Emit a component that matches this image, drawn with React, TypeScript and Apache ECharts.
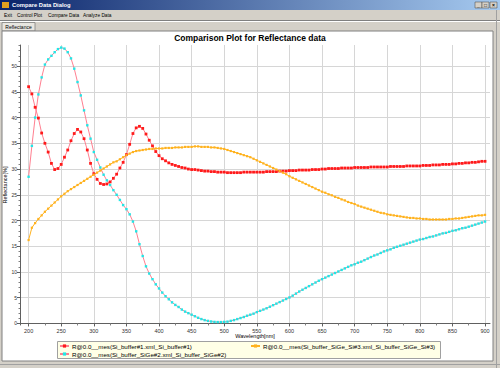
import React, { useEffect, useRef } from "react";
import * as echarts from "echarts";

const WAVELENGTHS = [
  200, 205, 210, 215, 220, 225, 230, 235, 240, 245, 250, 255, 260, 265, 270, 275, 280, 285, 290, 295,
  300, 305, 310, 315, 320, 325, 330, 335, 340, 345, 350, 355, 360, 365, 370, 375, 380, 385, 390, 395,
  400, 405, 410, 415, 420, 425, 430, 435, 440, 445, 450, 455, 460, 465, 470, 475, 480, 485, 490, 495,
  500, 505, 510, 515, 520, 525, 530, 535, 540, 545, 550, 555, 560, 565, 570, 575, 580, 585, 590, 595,
  600, 605, 610, 615, 620, 625, 630, 635, 640, 645, 650, 655, 660, 665, 670, 675, 680, 685, 690, 695,
  700, 705, 710, 715, 720, 725, 730, 735, 740, 745, 750, 755, 760, 765, 770, 775, 780, 785, 790, 795,
  800, 805, 810, 815, 820, 825, 830, 835, 840, 845, 850, 855, 860, 865, 870, 875, 880, 885, 890, 895,
  900,
];

// R@0.0__mes(Si_buffer#1.xml_Si_buffer#1)
const SI_BUFFER_1 = [
  46.0, 44.6, 42.0, 39.9, 37.0, 35.0, 33.3, 31.1, 29.9, 30.1, 30.9, 32.3, 33.7, 35.5, 36.9, 37.7, 37.2, 35.9, 33.7, 31.1,
  29.1, 28.0, 27.2, 27.0, 27.1, 27.5, 28.2, 29.0, 30.2, 31.3, 32.8, 34.8, 36.9, 38.0, 38.3, 37.9, 36.8, 35.6, 34.5, 33.4,
  32.6, 32.0, 31.6, 31.2, 30.9, 30.7, 30.5, 30.3, 30.2, 30.0, 29.9, 29.9, 29.8, 29.7, 29.6, 29.6, 29.5, 29.5, 29.4, 29.4,
  29.4, 29.3, 29.3, 29.3, 29.3, 29.3, 29.4, 29.4, 29.4, 29.4, 29.4, 29.4, 29.4, 29.5, 29.5, 29.5, 29.5, 29.6, 29.6, 29.6,
  29.7, 29.7, 29.7, 29.8, 29.8, 29.8, 29.8, 29.9, 29.9, 29.9, 30.0, 30.0, 30.1, 30.1, 30.1, 30.1, 30.2, 30.2, 30.2, 30.2,
  30.3, 30.3, 30.3, 30.3, 30.3, 30.4, 30.4, 30.4, 30.4, 30.4, 30.4, 30.5, 30.5, 30.5, 30.5, 30.5, 30.6, 30.6, 30.6, 30.6,
  30.6, 30.7, 30.7, 30.7, 30.8, 30.8, 30.8, 30.9, 30.9, 30.9, 31.0, 31.0, 31.1, 31.1, 31.2, 31.2, 31.3, 31.3, 31.4, 31.5,
  31.5,
];

// R@0.0__mes(Si_buffer_SiGe#2.xml_Si_buffer_SiGe#2)
const SI_BUFFER_SIGE_2 = [
  28.5, 34.5, 40.0, 44.5, 47.8, 50.3, 51.3, 52.0, 52.7, 53.3, 53.6, 53.4, 52.7, 51.5, 49.5, 46.9, 44.3, 41.4, 38.5, 35.9,
  33.3, 31.8, 30.3, 28.9, 27.8, 26.9, 25.9, 25.0, 24.0, 23.0, 22.2, 21.2, 19.8, 17.9, 15.4, 13.1, 11.1, 9.7, 8.6, 7.6,
  6.8, 6.0, 5.3, 4.7, 4.1, 3.6, 3.2, 2.7, 2.3, 2.0, 1.7, 1.4, 1.1, 0.85, 0.65, 0.5, 0.38, 0.3, 0.27, 0.27,
  0.3, 0.35, 0.5, 0.65, 0.85, 1.05, 1.25, 1.5, 1.7, 1.9, 2.2, 2.45, 2.7, 2.95, 3.25, 3.55, 3.85, 4.15, 4.45, 4.75,
  5.05, 5.4, 5.8, 6.2, 6.55, 6.9, 7.25, 7.6, 7.95, 8.3, 8.6, 8.9, 9.2, 9.5, 9.8, 10.1, 10.4, 10.7, 11.0, 11.3,
  11.5, 11.8, 12.0, 12.3, 12.6, 12.9, 13.2, 13.4, 13.7, 14.0, 14.2, 14.4, 14.7, 14.9, 15.1, 15.3, 15.5, 15.7, 15.9, 16.1,
  16.3, 16.4, 16.6, 16.8, 16.9, 17.1, 17.3, 17.5, 17.6, 17.8, 18.0, 18.1, 18.3, 18.5, 18.6, 18.8, 19.0, 19.2, 19.4, 19.6,
  19.8,
];

// R@0.0__mes(Si_buffer_SiGe_Si#3.xml_Si_buffer_SiGe_Si#3)
const SI_BUFFER_SIGE_SI_3 = [
  16.2, 18.6, 19.5, 20.3, 21.0, 21.7, 22.3, 22.9, 23.5, 24.1, 24.7, 25.2, 25.7, 26.1, 26.5, 26.9, 27.3, 27.7, 28.1, 28.5,
  28.9, 29.3, 29.7, 30.1, 30.5, 30.9, 31.3, 31.5, 31.9, 32.3, 32.7, 33.0, 33.3, 33.5, 33.6, 33.7, 33.8, 33.9, 33.9, 34.0,
  34.0, 34.0, 34.1, 34.1, 34.1, 34.2, 34.2, 34.2, 34.3, 34.3, 34.3, 34.4, 34.4, 34.3, 34.3, 34.3, 34.2, 34.2, 34.1, 34.0,
  33.9, 33.7, 33.5, 33.3, 33.1, 32.9, 32.7, 32.5, 32.3, 32.0, 31.7, 31.4, 31.1, 30.8, 30.5, 30.2, 29.9, 29.6, 29.3, 29.0,
  28.6, 28.3, 28.0, 27.7, 27.4, 27.1, 26.8, 26.5, 26.2, 25.9, 25.6, 25.4, 25.1, 24.9, 24.6, 24.4, 24.1, 23.9, 23.6, 23.4,
  23.2, 22.9, 22.7, 22.5, 22.3, 22.1, 21.9, 21.7, 21.5, 21.4, 21.2, 21.1, 21.0, 20.9, 20.8, 20.7, 20.6, 20.5, 20.5, 20.4,
  20.4, 20.3, 20.3, 20.2, 20.2, 20.2, 20.2, 20.2, 20.2, 20.3, 20.3, 20.4, 20.4, 20.5, 20.6, 20.7, 20.8, 20.9, 21.0, 21.0,
  21.1,
];

const SERIES_NAMES = [
  "R@0.0__mes(Si_buffer#1.xml_Si_buffer#1)",
  "R@0.0__mes(Si_buffer_SiGe#2.xml_Si_buffer_SiGe#2)",
  "R@0.0__mes(Si_buffer_SiGe_Si#3.xml_Si_buffer_SiGe_Si#3)",
];

const X_TICKS = [200, 250, 300, 350, 400, 450, 500, 550, 600, 650, 700, 750, 800, 850, 900];
const X_MINOR_TICKS = [225, 275, 325, 375, 425, 475, 525, 575, 625, 675, 725, 775, 825, 875];
const Y_TICKS = [0, 5, 10, 15, 20, 25, 30, 35, 40, 45, 50];
const Y_MINOR_TICKS = [
  1, 2, 3, 4, 6, 7, 8, 9, 11, 12, 13, 14, 16, 17, 18, 19, 21, 22, 23, 24,
  26, 27, 28, 29, 31, 32, 33, 34, 36, 37, 38, 39, 41, 42, 43, 44, 46, 47, 48, 49, 51, 52, 53, 54,
];

const MENU_ITEMS = ["Exit", "Control Plot", "Compare Data", "Analyze Data"];
const MENU_X = [4, 17, 48, 83];

const FONT = "Liberation Sans";
const PINK = "#ff7f90";

export default function App() {
  const ref = useRef<HTMLDivElement>(null);

  useEffect(() => {
    if (!ref.current) return;
    const chart = echarts.init(ref.current, null, { renderer: "svg" });

    const mk = (vals: number[]) => WAVELENGTHS.map((w, i) => [w, vals[i]]);

    const seriesDefs = [
      { name: SERIES_NAMES[0], data: mk(SI_BUFFER_1), marker: "#ff1a1a", line: PINK, size: 2.8 },
      { name: SERIES_NAMES[1], data: mk(SI_BUFFER_SIGE_2), marker: "#22e6e6", line: PINK, size: 2.4 },
      { name: SERIES_NAMES[2], data: mk(SI_BUFFER_SIGE_SI_3), marker: "#ffb21e", line: "#ffb21e", size: 2.2 },
    ];

    const menuTexts = MENU_ITEMS.map((t, i) => ({
      type: "text",
      x: MENU_X[i],
      y: 15,
      style: { text: t, fontSize: 4.8, fontFamily: FONT, fill: "#000", textVerticalAlign: "middle" },
    }));

    const legendCommon = {
      orient: "horizontal",
      padding: 0,
      itemWidth: 9,
      itemHeight: 4,
      itemGap: 0,
      selectedMode: false,
      textStyle: { fontSize: 6.2, fontFamily: FONT, color: "#000", padding: [0, 0, 0, -2] },
    };

    chart.setOption({
      animation: false,
      backgroundColor: "#d4d0c8",
      title: {
        text: "Comparison Plot for Reflectance data",
        left: "center",
        top: 33,
        padding: 0,
        textStyle: { fontSize: 8.5, fontWeight: "bold", fontFamily: FONT, color: "#000" },
      },
      grid: { left: 20, right: 10, top: 45, bottom: 43, containLabel: false, outerBoundsMode: "none" },
      legend: [
        { ...legendCommon, data: [SERIES_NAMES[0]], left: 59, top: 343 },
        { ...legendCommon, data: [SERIES_NAMES[2]], left: 250, top: 343 },
        { ...legendCommon, data: [SERIES_NAMES[1]], left: 59, top: 351 },
      ],
      xAxis: [
        {
          type: "value",
          min: 186.8,
          max: 907.6,
          name: "Wavelength[nm]",
          nameLocation: "middle",
          nameGap: 8,
          nameMoveOverlap: false,
          nameTextStyle: { fontSize: 5.5, fontFamily: FONT, color: "#000" },
          axisLine: { show: true, lineStyle: { color: "#606060", width: 1 } },
          axisTick: { show: true, length: 3, lineStyle: { color: "#606060" }, customValues: X_TICKS },
          axisLabel: { fontSize: 5.5, fontFamily: FONT, color: "#333", margin: 3, customValues: X_TICKS },
          splitLine: { show: true, lineStyle: { color: "#d6d6d6", width: 1 } },
        },
        {
          type: "value",
          min: 186.8,
          max: 907.6,
          position: "bottom",
          axisLine: { show: false },
          axisTick: { show: true, length: 2, lineStyle: { color: "#808080" }, customValues: X_MINOR_TICKS },
          axisLabel: { show: false },
          splitLine: { show: false },
        },
      ],
      yAxis: [
        {
          type: "value",
          min: -0.3,
          max: 54.1,
          name: "Reflectance[%]",
          nameLocation: "middle",
          nameRotate: 90,
          nameGap: 12,
          nameMoveOverlap: false,
          nameTextStyle: { fontSize: 5.5, fontFamily: FONT, color: "#000" },
          axisLine: { show: true, lineStyle: { color: "#606060", width: 1 } },
          axisTick: { show: true, length: 3, lineStyle: { color: "#606060" }, customValues: Y_TICKS },
          axisLabel: { fontSize: 5, fontFamily: FONT, color: "#333", margin: 3, customValues: Y_TICKS },
          splitLine: { show: true, lineStyle: { color: "#d6d6d6", width: 1 } },
        },
        {
          type: "value",
          min: -0.3,
          max: 54.1,
          position: "left",
          offset: 0,
          axisLine: { show: false },
          axisTick: { show: true, length: 1.5, lineStyle: { color: "#808080" }, customValues: Y_MINOR_TICKS },
          axisLabel: { show: false },
          splitLine: { show: false },
        },
      ],
      series: seriesDefs.map((s) => ({
        type: "line",
        name: s.name,
        data: s.data,
        xAxisIndex: 0,
        yAxisIndex: 0,
        symbol: "rect",
        symbolSize: s.size,
        showSymbol: true,
        lineStyle: { color: s.line, width: 1 },
        itemStyle: { color: s.marker },
        emphasis: { disabled: true },
      })),
      graphic: [
        // title bar
        {
          type: "rect",
          z: -10,
          shape: { x: 0, y: 0, width: 500, height: 10 },
          style: {
            fill: new echarts.graphic.LinearGradient(0, 0, 1, 0, [
              { offset: 0, color: "#0a246a" },
              { offset: 1, color: "#a6caf0" },
            ]),
          },
        },
        { type: "rect", z: -9, shape: { x: 2, y: 2, width: 7, height: 6 }, style: { fill: "#e0a020" } },
        {
          type: "text",
          x: 12,
          y: 5,
          style: { text: "Compare Data Dialog", fontSize: 5.8, fontWeight: "bold", fontFamily: FONT, fill: "#fff", textVerticalAlign: "middle" },
        },
        ...[475, 482, 490].map((bx, i) => ({
          type: "group",
          children: [
            {
              type: "rect",
              shape: { x: bx, y: 2, width: 7, height: 6 },
              style: { fill: "#d4d0c8", stroke: "#404040", lineWidth: 0.5 },
            },
            {
              type: "text",
              x: bx + 3.5,
              y: 5,
              style: {
                text: ["_", "□", "×"][i],
                fontSize: 5,
                fontWeight: "bold",
                fontFamily: FONT,
                fill: "#000",
                textAlign: "center",
                textVerticalAlign: "middle",
              },
            },
          ],
        })),
        // menu
        ...menuTexts,
        { type: "line", z: -9, shape: { x1: 0, y1: 20.5, x2: 500, y2: 20.5 }, style: { stroke: "#808080", lineWidth: 1 } },
        { type: "line", z: -9, shape: { x1: 0, y1: 21.5, x2: 500, y2: 21.5 }, style: { stroke: "#ffffff", lineWidth: 1 } },
        // tab
        {
          type: "rect",
          z: -9,
          shape: { x: 2, y: 22.5, width: 33, height: 8.5 },
          style: { fill: "#e8e6e0", stroke: "#808080", lineWidth: 0.8 },
        },
        {
          type: "text",
          x: 18.5,
          y: 27,
          style: { text: "Reflectance", fontSize: 5, fontFamily: FONT, fill: "#000", textAlign: "center", textVerticalAlign: "middle" },
        },
        // white panel
        {
          type: "rect",
          z: -9,
          shape: { x: 2, y: 31, width: 491, height: 330 },
          style: { fill: "#ffffff", stroke: "#808080", lineWidth: 1 },
        },
        { type: "line", z: -8, shape: { x1: 496.5, y1: 10, x2: 496.5, y2: 368 }, style: { stroke: "#a0a0a0", lineWidth: 1 } },
        { type: "line", z: -8, shape: { x1: 0, y1: 364.5, x2: 500, y2: 364.5 }, style: { stroke: "#a0a0a0", lineWidth: 1 } },
        // legend box
        {
          type: "rect",
          z: -5,
          shape: { x: 57.5, y: 341.5, width: 383, height: 17 },
          style: { fill: "#ffffe6", stroke: "#a0a0a0", lineWidth: 1 },
        },
      ],
    });

    return () => chart.dispose();
  }, []);

  return (
    <div
      ref={ref}
      style={{ position: "absolute", left: 0, top: 0, width: 500, height: 368 }}
    />
  );
}
